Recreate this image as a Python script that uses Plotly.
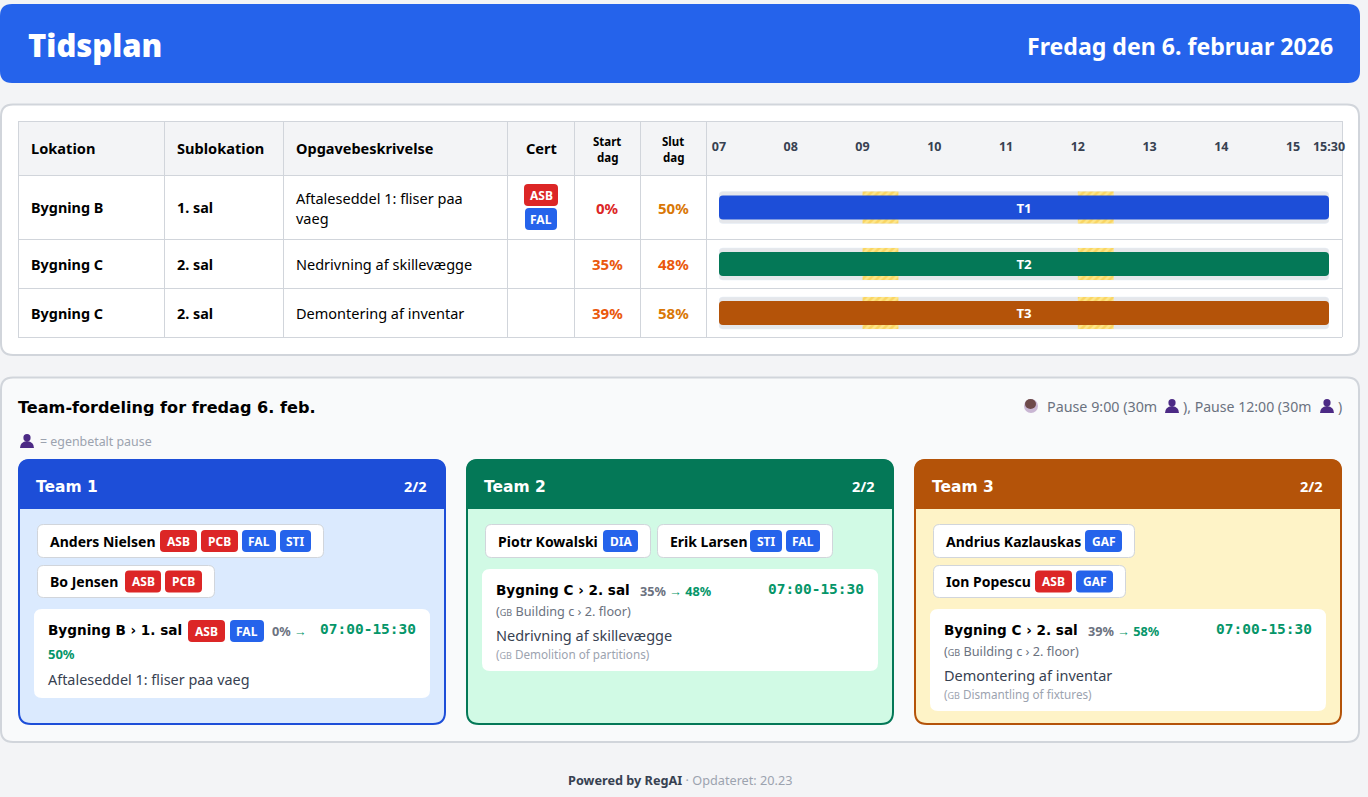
import plotly.graph_objects as go

W, H = 1368, 797

# Schedule table
locations = ['Bygning B', 'Bygning C', 'Bygning C']
sublocations = ['1. sal', '2. sal', '2. sal']
descriptions = ['Aftaleseddel 1: fliser paa<br>vaeg', 'Nedrivning af skillevægge', 'Demontering af inventar']
start_pct = ['0%', '35%', '39%']
end_pct = ['50%', '48%', '58%']
bar_labels = ['T1', 'T2', 'T3']
bar_start = [7, 7, 7]
bar_end = [15.5, 15.5, 15.5]
pause_start = [9, 12]
pause_minutes = [30, 30]
hour_ticks = [7, 8, 9, 10, 11, 12, 13, 14, 15, 15.5]
hour_labels = ['07', '08', '09', '10', '11', '12', '13', '14', '15', '15:30']

# Team cards
team_names = ['Team 1', 'Team 2', 'Team 3']
team_counts = ['2/2', '2/2', '2/2']
team_dark = ['#1d4ed8', '#047857', '#b45309']
team_light = ['#dbeafe', '#d1fae5', '#fef3c7']
task_titles = ['Bygning B › 1. sal', 'Bygning C › 2. sal', 'Bygning C › 2. sal']
task_times = ['07:00-15:30', '07:00-15:30', '07:00-15:30']
task_gb_titles = [None, 'Building c › 2. floor', 'Building c › 2. floor']
task_gb_desc = [None, 'Demolition of partitions', 'Dismantling of fixtures']

RED, BLUE = '#dc2626', '#2563eb'
LINE = '#d1d5db'
BODY = 'Noto Sans'
HEAVY = 'DejaVu Sans'
MONO = 'DejaVu Sans Mono'

shapes = []
notes = []


def rrect(x0, y0, x1, y1, r, fill, line=None, lw=1, top_only=False):
    # rounded box in page pixels
    bottom = f'L{x1},{y1} L{x0},{y1}' if top_only else (
        f'L{x1},{y1 - r} Q{x1},{y1} {x1 - r},{y1} L{x0 + r},{y1} Q{x0},{y1} {x0},{y1 - r}')
    path = (f'M{x0 + r},{y0} L{x1 - r},{y0} Q{x1},{y0} {x1},{y0 + r} {bottom} '
            f'L{x0},{y0 + r} Q{x0},{y0} {x0 + r},{y0} Z')
    shapes.append(dict(type='path', path=path, xref='x', yref='y', fillcolor=fill, layer='below',
                       line=dict(color=line or 'rgba(0,0,0,0)', width=lw if line else 0)))


def seg(x0, y0, x1, y1):
    shapes.append(dict(type='line', x0=x0, y0=y0, x1=x1, y1=y1, xref='x', yref='y', layer='below',
                       line=dict(color=LINE, width=1)))


def text(x, y, s, size=14, color='#000000', anchor='left', family=BODY, bold=False, weight=None):
    font = dict(size=size, color=color, family=family)
    if weight:
        font['weight'] = weight
    notes.append(dict(x=x, y=y, xref='x', yref='y', text=f'<b>{s}</b>' if bold else s, showarrow=False,
                      xanchor=anchor, yanchor='middle', borderpad=0, borderwidth=0, font=font))


def badge(x0, x1, y0, label, fill):
    rrect(x0, y0, x1, y0 + 22, 4, fill)
    text((x0 + x1) / 2, y0 + 11, label, 12, '#ffffff', 'center', bold=True)


def bust(cx, cy):
    # stand-in for the purple person emoji
    shapes.append(dict(type='circle', x0=cx - 3.6, x1=cx + 3.6, y0=cy - 7, y1=cy + 0.5, xref='x', yref='y',
                       fillcolor='#4c2a85', line=dict(width=0), layer='below'))
    shapes.append(dict(type='path', xref='x', yref='y', fillcolor='#4c2a85', line=dict(width=0), layer='below',
                       path=f'M{cx - 7},{cy + 7} Q{cx - 7},{cy + 1} {cx},{cy} Q{cx + 7},{cy + 1} {cx + 7},{cy + 7} Z'))


# Page header
rrect(0, 4, 1360, 83, 12, BLUE)
text(28, 45, 'Tidsplan', 31, '#ffffff', weight=900)
text(1333, 45.5, 'Fredag den 6. februar 2026', 23.1, '#ffffff', 'right', bold=True)

# Schedule panel and table grid
rrect(1, 104.5, 1359, 355, 12, '#ffffff', LINE, 2)
col_edges = [18, 164, 283, 507, 574, 640, 706, 1342]
row_edges = [121, 175, 239, 288, 337]
rrect(18, 121, 1342, 175, 0.1, '#f3f4f6')
for cx in col_edges:
    seg(cx + 0.5, 121, cx + 0.5, 337)
for ry in row_edges:
    seg(18, ry + 0.5, 1342, ry + 0.5)

text(31, 148, 'Lokation', 14.6, bold=True)
text(177, 148, 'Sublokation', 14.6, bold=True)
text(296, 148, 'Opgavebeskrivelse', 14.5, bold=True)
text(541, 148, 'Cert', 14.6, anchor='center', bold=True)
for cx, word in [(607, 'Start'), (673, 'Slut')]:
    text(cx, 141, word, 11.5, anchor='center', bold=True)
    text(cx, 157, 'dag', 11.5, anchor='center', bold=True)

row_mid = [(a + b) / 2 + 0.5 for a, b in zip(row_edges[1:], row_edges[2:])]
pct_colors = {'0%': RED, '50%': '#d97706', '35%': '#ea580c', '48%': '#ea580c', '39%': '#ea580c', '58%': '#d97706'}
for i, cy in enumerate(row_mid):
    text(31, cy, locations[i], 14.4, bold=True)
    text(177, cy, sublocations[i], 14.4, bold=True)
    lines = descriptions[i].split('<br>')
    for n, part in enumerate(lines):
        text(296, cy + (n - (len(lines) - 1) / 2) * 20, part, 14.5)
    text(607, cy, start_pct[i], 15, pct_colors[start_pct[i]], 'center', bold=True)
    text(673, cy, end_pct[i], 15, pct_colors[end_pct[i]], 'center', bold=True)
badge(524, 558, 184, 'ASB', RED)
badge(525, 557, 208, 'FAL', BLUE)

# Team panel
rrect(1, 377.5, 1359, 742, 12, '#f9fafb', LINE, 2)
text(18, 407.5, 'Team-fordeling for fredag 6. feb.', 16.1, family=HEAVY, bold=True)
shapes.append(dict(type='circle', x0=1024, x1=1038, y0=399, y1=413, xref='x', yref='y',
                   fillcolor='#c9b6d3', line=dict(width=0), layer='below'))
shapes.append(dict(type='circle', x0=1025, x1=1036, y0=399, y1=409, xref='x', yref='y',
                   fillcolor='#6e4a4a', line=dict(width=0), layer='below'))
text(1047, 406.5, 'Pause 9:00 (30m', 14.3, '#6b7280')
bust(1172, 406)
text(1183, 406.5, '), Pause 12:00 (30m', 14.1, '#6b7280')
bust(1327, 406)
text(1342, 406.5, ')', 14, '#6b7280', 'right')
bust(27, 441)
text(40, 441.5, '= egenbetalt pause', 12.4, '#9ca3af')

card_x = [18, 466, 914]
card_bottom = 724
for i, cx in enumerate(card_x):
    rrect(cx + 1, 460, cx + 427, card_bottom, 12, team_light[i], team_dark[i], 2)
    rrect(cx, 459, cx + 428, 509, 12, team_dark[i], top_only=True)
    text(cx + 18, 486.5, team_names[i], 15.5, '#ffffff', family=HEAVY, bold=True)
    text(cx + 409, 485.5, team_counts[i], 14.5, '#ffffff', 'right', bold=True)


def chip(x0, x1, y0, y1, name, tags):
    rrect(x0 + 0.5, y0 + 0.5, x1 - 0.5, y1 - 0.5, 6, '#ffffff', LINE, 1)
    text(x0 + 13, (y0 + y1) / 2, name, 14, bold=True)
    for tx0, tx1, label, fill in tags:
        badge(tx0, tx1, (y0 + y1) / 2 - 11, label, fill)


# Team members
chip(37, 324, 524, 558, 'Anders Nielsen', [(160, 197, 'ASB', RED), (201, 238, 'PCB', RED),
                                            (242, 276, 'FAL', BLUE), (280, 311, 'STI', BLUE)])
chip(37, 215, 565, 598, 'Bo Jensen', [(125, 161, 'ASB', RED), (165, 202, 'PCB', RED)])
chip(485, 651, 524, 558, 'Piotr Kowalski', [(603, 638, 'DIA', BLUE)])
chip(657, 833, 524, 558, 'Erik Larsen', [(750, 782, 'STI', BLUE), (786, 820, 'FAL', BLUE)])
chip(933, 1135, 524, 558, 'Andrius Kazlauskas', [(1085, 1122, 'GAF', BLUE)])
chip(933, 1126, 565, 598, 'Ion Popescu', [(1035, 1072, 'ASB', RED), (1076, 1113, 'GAF', BLUE)])

GREEN = '#059669'


def gb(s):
    return f'(<span style="font-size:9px">GB</span> {s})'


# Task cards
rrect(34, 609, 430, 698, 8, '#ffffff')
text(48, 630, task_titles[0], 13.6, family=HEAVY, bold=True)
badge(188, 225, 620, 'ASB', RED)
badge(230, 264, 620, 'FAL', BLUE)
text(272, 631, f'<b>{start_pct[0]}</b> <span style="color:{GREEN}">→</span>', 12.7, '#6b7280')
text(416, 629, task_times[0], 14.5, GREEN, 'right', MONO, True)
text(48, 654, end_pct[0], 13, GREEN, bold=True)
text(48, 679, 'Aftaleseddel 1: fliser paa vaeg', 14.4, '#374151')

for i, cx, top, bottom in [(1, 482, 569, 671), (2, 930, 609, 711)]:
    rrect(cx, top, cx + 396, bottom, 8, '#ffffff')
    text(cx + 14, top + 21, task_titles[i], 13.6, family=HEAVY, bold=True)
    text(cx + 158, top + 22, f'<b>{start_pct[i]}</b> <span style="color:{GREEN}">→ <b>{end_pct[i]}</b></span>',
         12.7, '#6b7280')
    text(cx + 382, top + 20, task_times[i], 14.5, GREEN, 'right', MONO, True)
    text(cx + 14, top + 42, gb(task_gb_titles[i]), 12.7, '#6b7280')
    text(cx + 14, top + 66, descriptions[i], 14.5, '#374151')
    text(cx + 14, top + 85, gb(task_gb_desc[i]), 11.7, '#9ca3af')

# Footer
text(680, 780, f'<b>Powered by RegAI</b> <span style="color:#9ca3af">· Opdateret: 20.23</span>',
     12.7, '#374151', 'center')

# Gantt bars share one axis pair laid over the table cells
fig = go.Figure()
widths = [e - s for s, e in zip(bar_start, bar_end)]
fig.add_trace(go.Bar(y=row_mid, x=widths, base=bar_start, orientation='h', width=32, xaxis='x2', yaxis='y2',
                     marker=dict(color='#e5e7eb', cornerradius=4), hoverinfo='skip', showlegend=False))
for start, minutes in zip(pause_start, pause_minutes):
    fig.add_trace(go.Bar(y=row_mid, x=[minutes / 60] * len(row_mid), base=[start] * len(row_mid), orientation='h',
                         width=32, xaxis='x2', yaxis='y2', hoverinfo='skip', showlegend=False,
                         marker=dict(color='#fde68a', line=dict(width=0),
                                     pattern=dict(shape='/', fgcolor='#f5c33b', bgcolor='#fde68a',
                                                  size=5, solidity=0.5))))
fig.add_trace(go.Bar(y=row_mid, x=widths, base=bar_start, orientation='h', width=24, xaxis='x2', yaxis='y2',
                     marker=dict(color=team_dark, cornerradius=4, line=dict(width=0)),
                     text=bar_labels, textposition='inside', insidetextanchor='middle', textangle=0,
                     textfont=dict(color='#ffffff', size=14, family=BODY, weight=700),
                     hoverinfo='skip', showlegend=False))

fig.update_layout(
    width=W, height=H, margin=dict(l=0, r=0, t=0, b=0, autoexpand=False),
    paper_bgcolor='#f3f4f6', plot_bgcolor='rgba(0,0,0,0)',
    barmode='overlay', shapes=shapes, annotations=notes,
    font=dict(family=BODY),
    # full page axes in pixels, used for the cards and the text
    xaxis=dict(domain=[0, 1], range=[0, W], visible=False, fixedrange=True, automargin=False),
    yaxis=dict(domain=[0, 1], range=[H, 0], visible=False, fixedrange=True, automargin=False),
    xaxis2=dict(domain=[719 / W, 1329 / W], range=[7, 15.5], anchor='y2', side='top', automargin=False,
                tickmode='array', tickvals=hour_ticks, ticktext=hour_labels,
                tickfont=dict(size=12.5, color='#374151', family=BODY, weight=700),
                ticks='outside', ticklen=18, tickcolor='rgba(0,0,0,0)',
                showgrid=False, zeroline=False, showline=False, fixedrange=True),
    yaxis2=dict(domain=[1 - 337 / H, 1 - 175 / H], range=[337, 175], anchor='x2', visible=False,
                fixedrange=True, automargin=False),
)

fig.write_html('out.html', config={'displayModeBar': False},
               post_script="document.body.style.margin='0';document.body.style.overflow='hidden';")
